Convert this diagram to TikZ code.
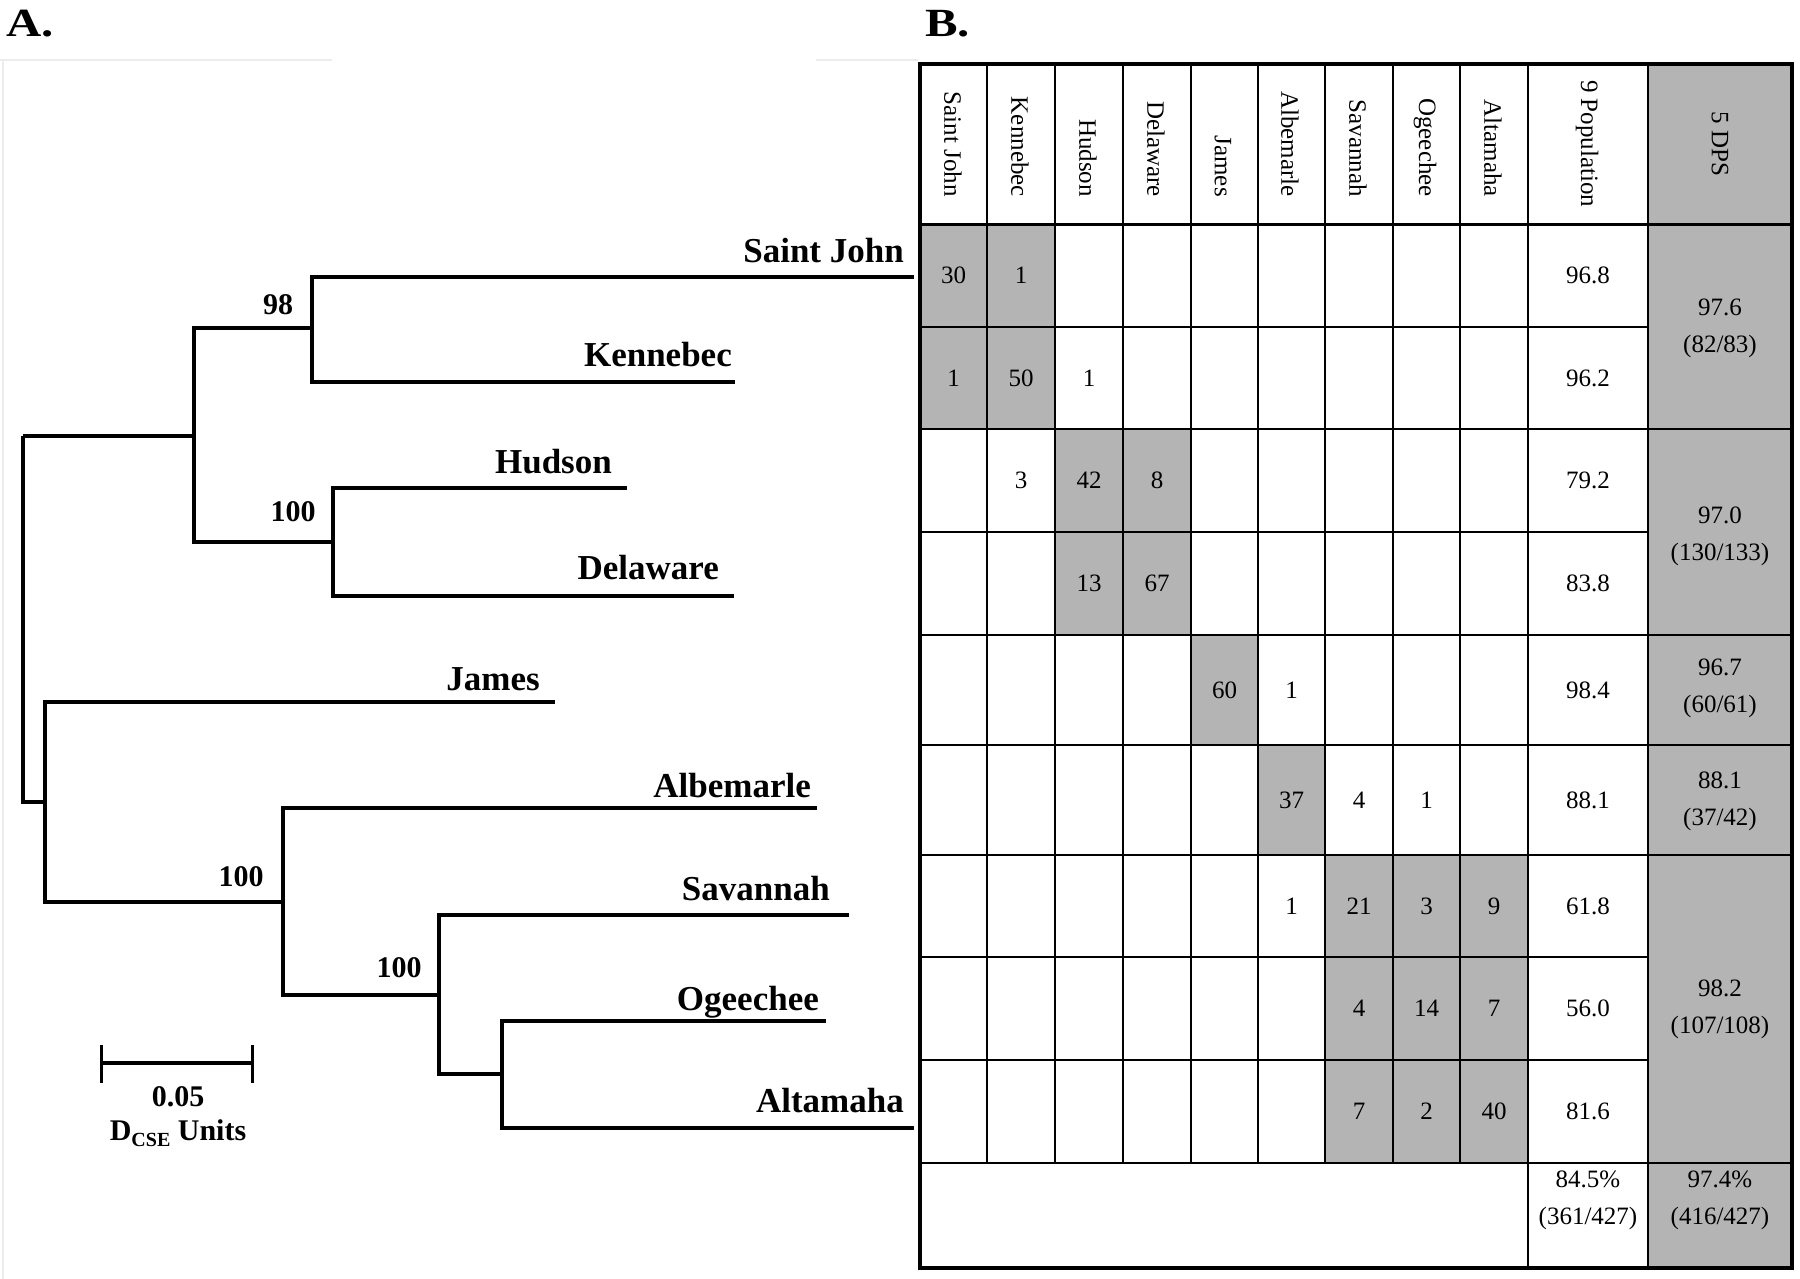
\documentclass[tikz,border=0pt]{standalone}
\usepackage{fontspec}
\setmainfont{Liberation Serif}
\usetikzlibrary{calc}
\definecolor{cellgray}{RGB}{180,180,180}
\definecolor{faint}{RGB}{236,236,236}
\begin{document}
\begin{tikzpicture}[x=1pt,y=-1pt,
  branch/.style={line width=3.5pt},
  leaflab/.style={font=\fontsize{35}{40}\selectfont\bfseries, inner sep=0pt, anchor=base east},
  boot/.style={font=\fontsize{30}{34}\selectfont\bfseries, inner sep=0pt},
  panel/.style={font=\fontsize{40}{44}\selectfont\bfseries, inner sep=0pt, anchor=base west, xscale=1.22},
  num/.style={font=\fontsize{25}{37}\selectfont, inner sep=0pt, align=center},
  head/.style={font=\fontsize{25}{30}\selectfont, inner sep=0pt, rotate=-90},
  grid/.style={line width=2pt},
  thick grid/.style={line width=3pt}]
\useasboundingbox (0,0) rectangle (1800,1279);
\fill[white] (0,0) rectangle (1800,1279);
% faint frame of panel A
\draw[faint, line width=2pt] (0,60) -- (332,60);
\draw[faint, line width=2pt] (816,60) -- (918,60);
\draw[faint, line width=2pt] (3,60) -- (3,1279);

% panel labels
\node[panel] (pA) at (6,37) {A.};
\node[panel] (pB) at (925,37) {B.};

% ---------------- tree ----------------
\coordinate (sj)  at (914,277);
\coordinate (ke)  at (735,382);
\coordinate (hu)  at (627,488);
\coordinate (de)  at (734,596);
\coordinate (ja)  at (555,702);
\coordinate (al)  at (817,808);
\coordinate (sa)  at (849,915);
\coordinate (og)  at (826,1021);
\coordinate (alt) at (914,1128);
\coordinate (root) at (23,436);
\coordinate (nA)  at (194,436);
\coordinate (nB)  at (45,802);
\coordinate (n98) at (312,328);
\coordinate (nHD) at (333,542);
\coordinate (nAL) at (283,902);
\coordinate (nSA) at (439,995);
\coordinate (nOA) at (502,1074);

\draw[branch] (root) |- (nA);
\draw[branch] (root) |- (nB);
\draw[branch] (nA) |- (n98);
\draw[branch] (nA) |- (nHD);
\draw[branch] (n98) |- (sj);
\draw[branch] (n98) |- (ke);
\draw[branch] (nHD) |- (hu);
\draw[branch] (nHD) |- (de);
\draw[branch] (nB) |- (ja);
\draw[branch] (nB) |- (nAL);
\draw[branch] (nAL) |- (al);
\draw[branch] (nAL) |- (nSA);
\draw[branch] (nSA) |- (sa);
\draw[branch] (nSA) |- (nOA);
\draw[branch] (nOA) |- (og);
\draw[branch] (nOA) |- (alt);

\node[leaflab] (lsj) at (904,262) {Saint John};
\node[leaflab] (lke) at (732,366) {Kennebec};
\node[leaflab] (lhu) at (612,473) {Hudson};
\node[leaflab] (lde) at (719,579) {Delaware};
\node[leaflab] (lja) at (540,690) {James};
\node[leaflab] (lal) at (811,797) {Albemarle};
\node[leaflab] (lsa) at (830,900) {Savannah};
\node[leaflab] (log) at (819,1010) {Ogeechee};
\node[leaflab] (lat) at (904,1112) {Altamaha};

\node[boot] (b98)  at (278,305) {98};
\node[boot] (b100a) at (293,512) {100};
\node[boot] (b100b) at (241,877) {100};
\node[boot] (b100c) at (399,968) {100};

% scale bar
\coordinate (sb1) at (101,1063);
\coordinate (sb2) at (252,1063);
\draw[line width=3.5pt] (sb1) -- (sb2);
\draw[line width=3pt] ($(sb1)+(0,-18)$) -- ($(sb1)+(0,20)$);
\draw[line width=3pt] ($(sb2)+(0,-18)$) -- ($(sb2)+(0,20)$);
\node[boot] (sbv) at (178,1097) {0.05};
\node[boot, anchor=base] (sbu) at (178,1140) {D\raisebox{-0.22em}{\fontsize{20}{20}\selectfont CSE} Units};

% ---------------- table ----------------
\fill[cellgray] (1648,64) rectangle (1792,1268);
\fill[cellgray] (920,224) rectangle (1055,429);
\fill[cellgray] (1055,429) rectangle (1191,635);
\fill[cellgray] (1191,635) rectangle (1258,745);
\fill[cellgray] (1258,745) rectangle (1325,855);
\fill[cellgray] (1325,855) rectangle (1528,1163);

\foreach \x in {987,1055,1123,1191,1258,1325,1393,1460}
  \draw[grid] (\x,64) -- (\x,1163);
\foreach \x in {1528,1648}
  \draw[grid] (\x,64) -- (\x,1268);
\foreach \y in {327,532,957,1060}
  \draw[grid] (920,\y) -- (1648,\y);
\foreach \y in {429,635,745,855,1163}
  \draw[grid] (920,\y) -- (1792,\y);
\draw[thick grid] (920,224) -- (1792,224);
\draw[line width=3.5pt] (920,64) rectangle (1792,1268);

% header
\node[head, anchor=east] (h1) at (953,197) {Saint John};
\node[head, anchor=east] (h2) at (1020,197) {Kennebec};
\node[head, anchor=east] (h3) at (1088,197) {Hudson};
\node[head, anchor=east] (h4) at (1156,197) {Delaware};
\node[head, anchor=east] (h5) at (1223,197) {James};
\node[head, anchor=east] (h6) at (1290,197) {Albemarle};
\node[head, anchor=east] (h7) at (1358,197) {Savannah};
\node[head, anchor=east] (h8) at (1425,197) {Ogeechee};
\node[head, anchor=east] (h9) at (1493,197) {Altamaha};
\node[head, anchor=west] (h10) at (1587,80) {9 Population};
\node[head] (h11) at (1720,144) {5 DPS};

% row 1
\node[num] (v11) at (953.5,275.5) {30};
\node[num] (v12) at (1021,275.5) {1};
\node[num] (v1p) at (1588,275.5) {96.8};
% row 2
\node[num] (v21) at (953.5,378) {1};
\node[num] (v22) at (1021,378) {50};
\node[num] (v23) at (1089,378) {1};
\node[num] (v2p) at (1588,378) {96.2};
% row 3
\node[num] (v32) at (1021,480.5) {3};
\node[num] (v33) at (1089,480.5) {42};
\node[num] (v34) at (1157,480.5) {8};
\node[num] (v3p) at (1588,480.5) {79.2};
% row 4
\node[num] (v43) at (1089,583.5) {13};
\node[num] (v44) at (1157,583.5) {67};
\node[num] (v4p) at (1588,583.5) {83.8};
% row 5
\node[num] (v55) at (1224.5,690) {60};
\node[num] (v56) at (1291.5,690) {1};
\node[num] (v5p) at (1588,690) {98.4};
% row 6
\node[num] (v66) at (1291.5,800) {37};
\node[num] (v67) at (1359,800) {4};
\node[num] (v68) at (1426.5,800) {1};
\node[num] (v6p) at (1588,800) {88.1};
% row 7
\node[num] (v76) at (1291.5,906) {1};
\node[num] (v77) at (1359,906) {21};
\node[num] (v78) at (1426.5,906) {3};
\node[num] (v79) at (1494,906) {9};
\node[num] (v7p) at (1588,906) {61.8};
% row 8
\node[num] (v87) at (1359,1008.5) {4};
\node[num] (v88) at (1426.5,1008.5) {14};
\node[num] (v89) at (1494,1008.5) {7};
\node[num] (v8p) at (1588,1008.5) {56.0};
% row 9
\node[num] (v97) at (1359,1111.5) {7};
\node[num] (v98) at (1426.5,1111.5) {2};
\node[num] (v99) at (1494,1111.5) {40};
\node[num] (v9p) at (1588,1111.5) {81.6};
% totals
\node[num] (vtp) at (1588,1200) {84.5\%\\(361/427)};
\node[num] (vtd) at (1720,1200) {97.4\%\\(416/427)};
% DPS groups
\node[num] (d1) at (1720,328) {97.6\\(82/83)};
\node[num] (d2) at (1720,536) {97.0\\(130/133)};
\node[num] (d3) at (1720,688) {96.7\\(60/61)};
\node[num] (d4) at (1720,801) {88.1\\(37/42)};
\node[num] (d5) at (1720,1009) {98.2\\(107/108)};
\end{tikzpicture}
\end{document}
